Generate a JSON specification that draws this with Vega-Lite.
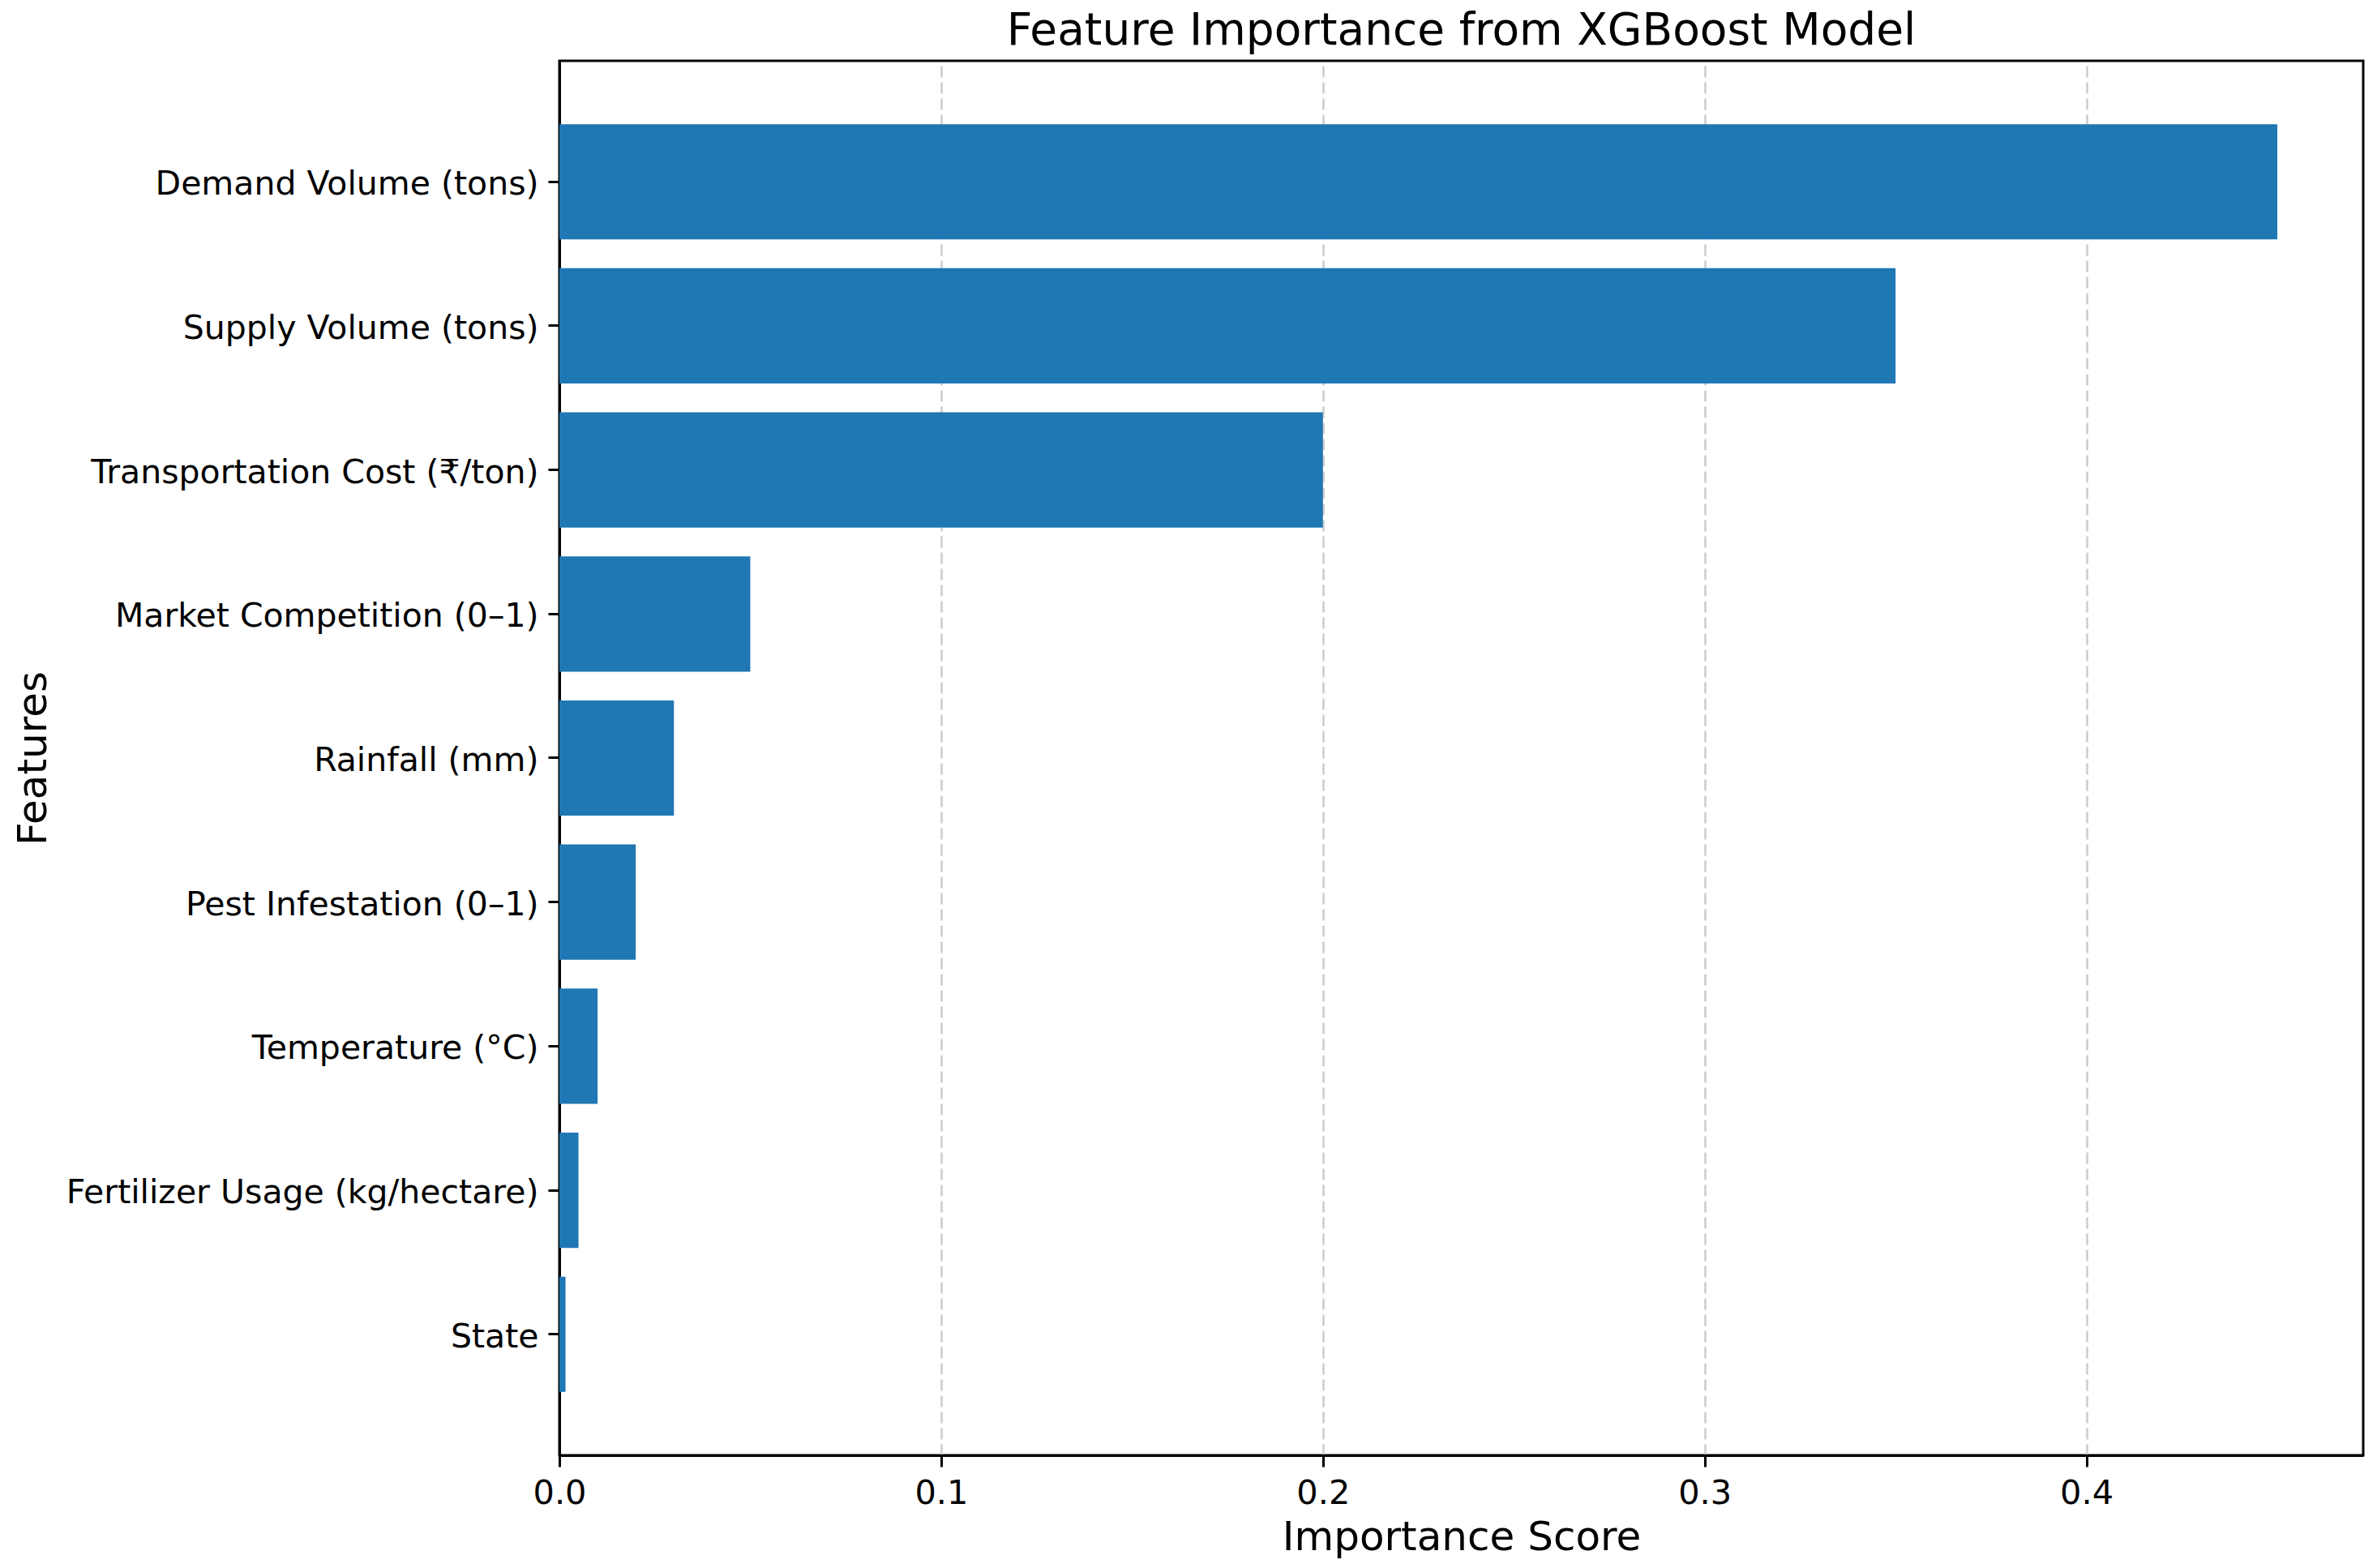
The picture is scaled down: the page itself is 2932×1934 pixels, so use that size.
{
  "$schema": "https://vega.github.io/schema/vega-lite/v6.json",
  "autosize": {"type": "none"},
  "width": 2225,
  "height": 1720,
  "padding": {"left": 690, "top": 75, "right": 17, "bottom": 139},
  "background": "white",
  "title": {
    "text": "Feature Importance from XGBoost Model",
    "font": "DejaVu Sans",
    "fontSize": 55,
    "fontWeight": "normal",
    "color": "black",
    "anchor": "middle",
    "offset": 8
  },
  "data": {
    "values": [
      {"feature": "Demand Volume (tons)", "importance": 0.45},
      {"feature": "Supply Volume (tons)", "importance": 0.35},
      {"feature": "Transportation Cost (₹/ton)", "importance": 0.2},
      {"feature": "Market Competition (0–1)", "importance": 0.05},
      {"feature": "Rainfall (mm)", "importance": 0.03},
      {"feature": "Pest Infestation (0–1)", "importance": 0.02},
      {"feature": "Temperature (°C)", "importance": 0.01},
      {"feature": "Fertilizer Usage (kg/hectare)", "importance": 0.005},
      {"feature": "State", "importance": 0.0016}
    ]
  },
  "mark": {"type": "bar", "color": "#1f77b4"},
  "encoding": {
    "y": {
      "field": "feature",
      "type": "nominal",
      "sort": null,
      "scale": {"paddingInner": 0.2, "paddingOuter": 0.44},
      "axis": {
        "title": "Features",
        "titleFont": "DejaVu Sans",
        "titleFontSize": 50,
        "titleFontWeight": "normal",
        "titleColor": "black",
        "titleAngle": -90,
        "titleAlign": "center",
        "titleBaseline": "middle",
        "titleX": -649,
        "titleY": 860,
        "labelFont": "DejaVu Sans",
        "labelFontSize": 41,
        "labelColor": "black",
        "labelPadding": 12,
        "labelOffset": 4,
        "labelLimit": 0,
        "tickSize": 14,
        "tickWidth": 3,
        "tickColor": "black",
        "domainColor": "black",
        "domainWidth": 3,
        "grid": false
      }
    },
    "x": {
      "field": "importance",
      "type": "quantitative",
      "scale": {"domain": [0, 0.4725], "nice": false, "zero": true},
      "axis": {
        "title": "Importance Score",
        "titleFont": "DejaVu Sans",
        "titleFontSize": 50,
        "titleFontWeight": "normal",
        "titleColor": "black",
        "titlePadding": 9,
        "values": [0, 0.1, 0.2, 0.3, 0.4],
        "format": ".1f",
        "labelFont": "DejaVu Sans",
        "labelFontSize": 41.5,
        "labelColor": "black",
        "labelPadding": 12,
        "labelFlush": false,
        "tickSize": 14,
        "tickWidth": 3,
        "tickColor": "black",
        "domainColor": "black",
        "domainWidth": 3,
        "grid": true,
        "gridColor": "#cccccc",
        "gridWidth": 2.5,
        "gridDash": [14, 6]
      }
    }
  },
  "config": {
    "view": {"stroke": "black", "strokeWidth": 3}
  }
}
